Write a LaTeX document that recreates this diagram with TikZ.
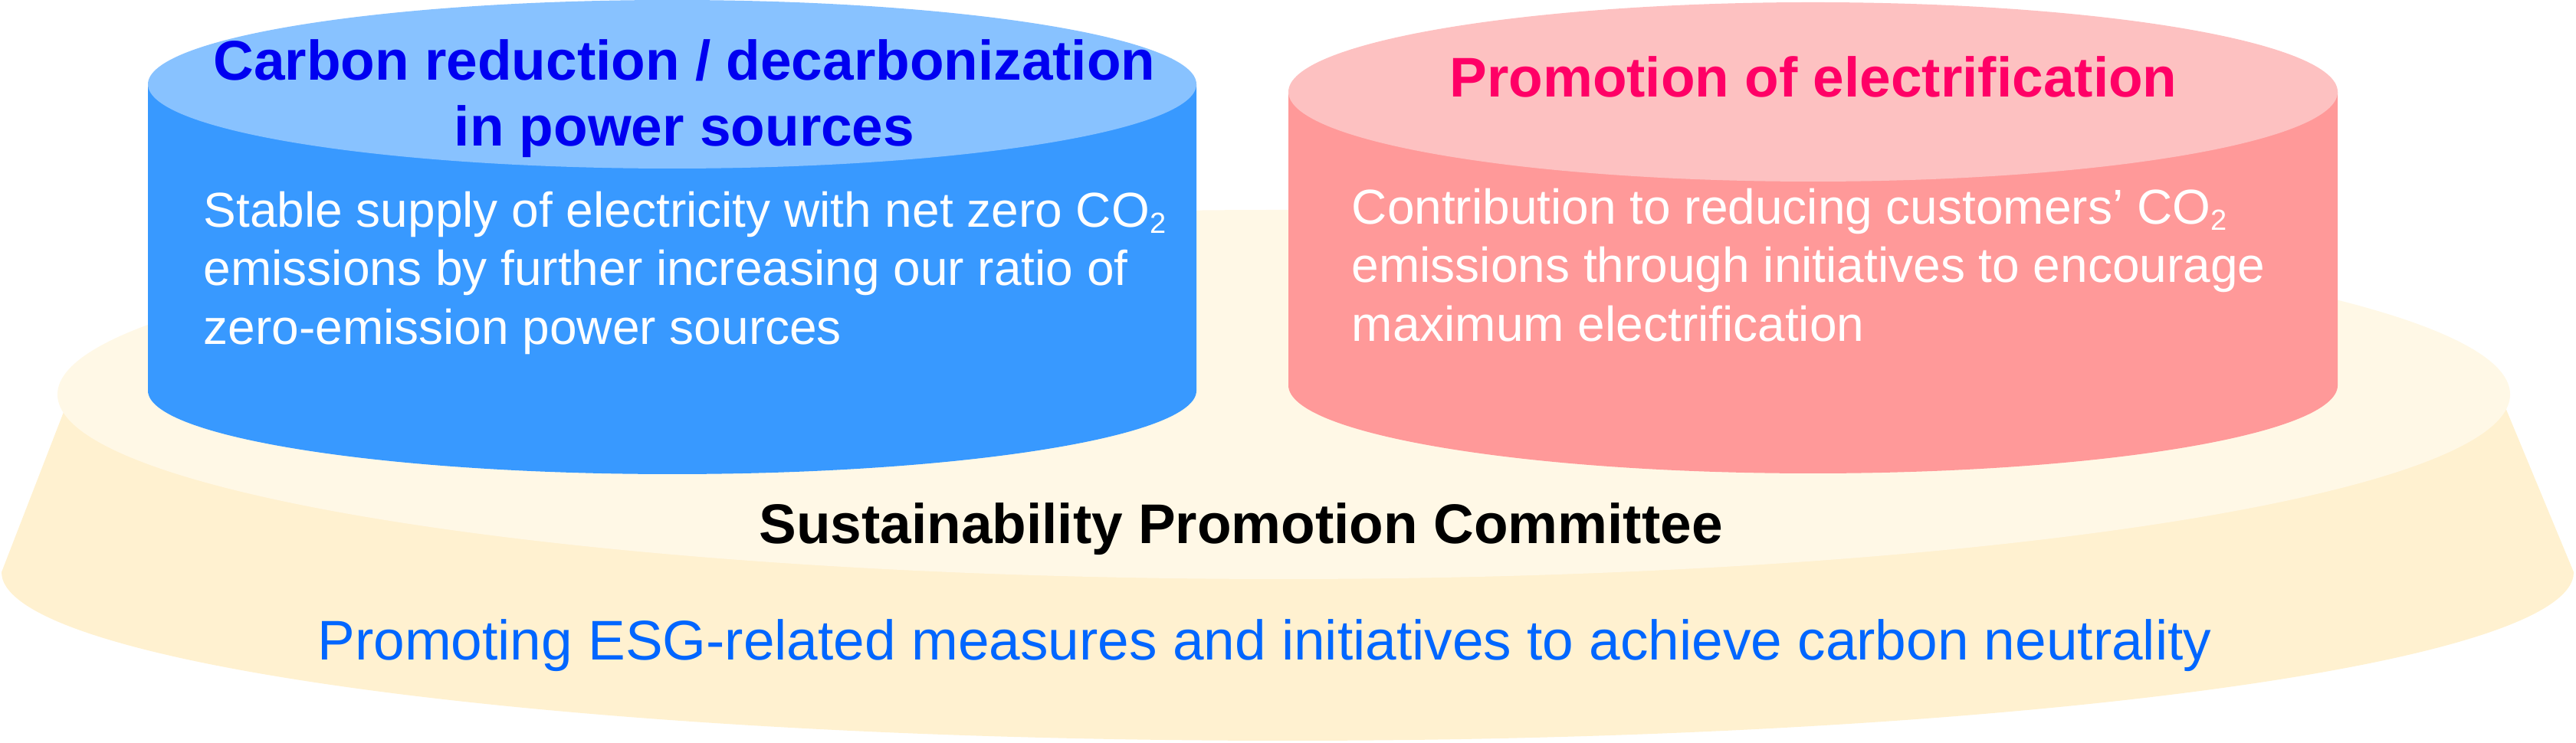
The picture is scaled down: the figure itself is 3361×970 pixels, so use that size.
\documentclass[tikz,border=0pt]{standalone}
\usepackage{fontspec}
\setmainfont{Liberation Sans}
\definecolor{basetop}{HTML}{FFF8E6}
\definecolor{baseside}{HTML}{FFF1D0}
\definecolor{blueside}{HTML}{3899FF}
\definecolor{bluetop}{HTML}{88C2FF}
\definecolor{bluetitle}{HTML}{0000F0}
\definecolor{pinkside}{HTML}{FF9999}
\definecolor{pinktop}{HTML}{FDC1C1}
\definecolor{pinktitle}{HTML}{FF0066}
\definecolor{esgblue}{HTML}{0066FF}
\newcommand{\subtwo}{\raisebox{-2pt}{\fontsize{9.5}{9.5}\selectfont 2}}
\begin{document}
\begin{tikzpicture}[x=0.25pt,y=0.25pt,
  bodytxt/.style={anchor=base west, inner sep=0pt, text=white, font=\fontsize{16}{19}\selectfont},
  titletxt/.style={anchor=base, inner sep=0pt, font=\bfseries\fontsize{18.25}{21}\selectfont},
  basetxt/.style={anchor=base, inner sep=0pt}]
\useasboundingbox (0,0) rectangle (3361,970);
% base platform
\fill[baseside] (83,432) -- (2,223) arc[start angle=180,end angle=360,x radius=1678,y radius=220] -- (3268,440) -- cycle;
\fill[basetop] (1675,455) ellipse[x radius=1600,y radius=241];
% blue cylinder
\fill[blueside] (193,860) -- (193,460) arc[start angle=180,end angle=360,x radius=684,y radius=109] -- (1561,860) -- cycle;
\fill[bluetop] (877,860) ellipse[x radius=684,y radius=110];
% pink cylinder
\fill[pinkside] (1681,850) -- (1681,467) arc[start angle=180,end angle=360,x radius=684.5,y radius=115] -- (3050,850) -- cycle;
\fill[pinktop] (2365.5,850) ellipse[x radius=684.5,y radius=117];
% blue texts
\node[titletxt, text=bluetitle] (bt1) at (893,865) {Carbon reduction / decarbonization};
\node[titletxt, text=bluetitle] (bt2) at (893,779) {in power sources};
\node[bodytxt] (bb1) at (265,673) {Stable supply of electricity with net zero CO\subtwo};
\node[bodytxt] (bb2) at (265,597) {emissions by further increasing our ratio of};
\node[bodytxt] (bb3) at (265,520) {zero-emission power sources};
% pink texts
\node[titletxt, text=pinktitle] (pt1) at (2366,843) {Promotion of electrification};
\node[bodytxt] (pb1) at (1763,677) {Contribution to reducing customers’ CO\subtwo};
\node[bodytxt] (pb2) at (1763,601) {emissions through initiatives to encourage};
\node[bodytxt] (pb3) at (1763,524) {maximum electrification};
% base texts
\node[basetxt, font=\bfseries\fontsize{18.25}{21}\selectfont] (spc) at (1619,260) {Sustainability Promotion Committee};
\node[basetxt, text=esgblue, font=\fontsize{18.25}{21}\selectfont] (esg) at (1650,108) {Promoting ESG-related measures and initiatives to achieve carbon neutrality};
\end{tikzpicture}
\end{document}
